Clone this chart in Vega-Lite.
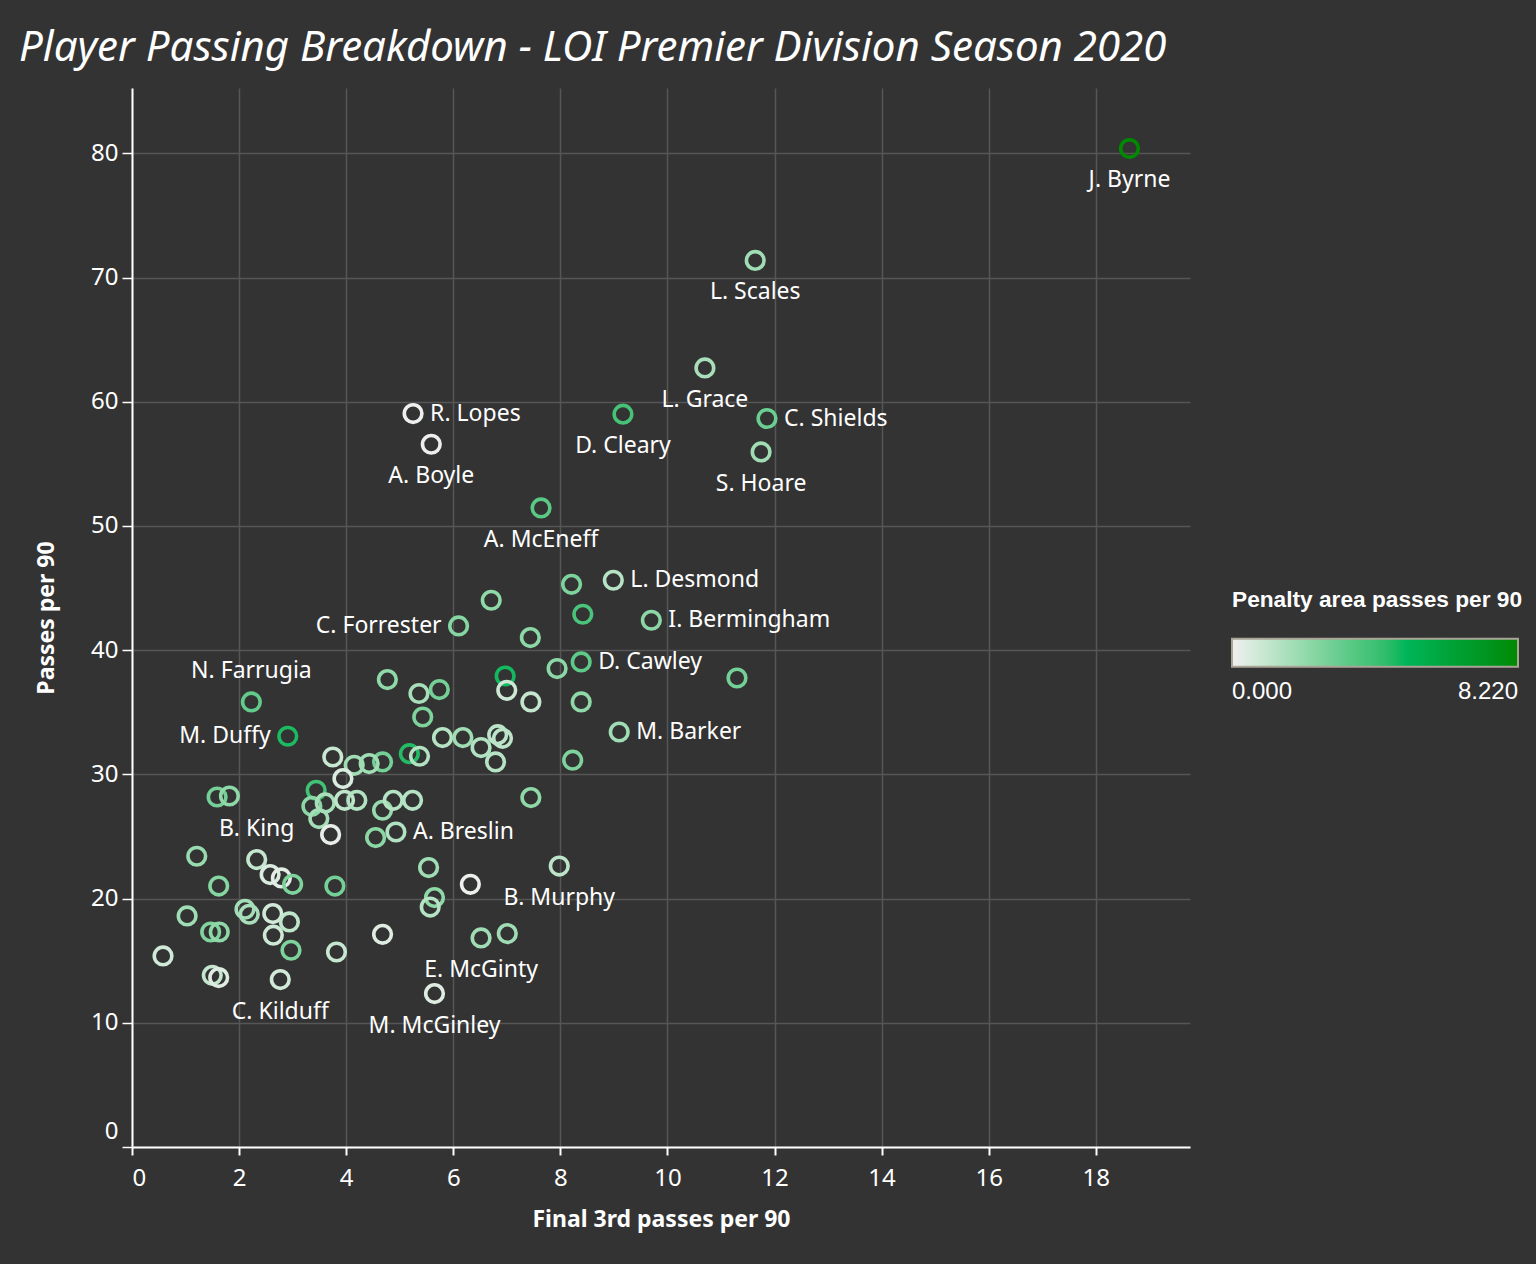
{
  "$schema": "https://vega.github.io/schema/vega-lite/v6.json",
  "width": 1058,
  "height": 1059,
  "autosize": {"type": "none"},
  "padding": {"left": 132, "top": 88, "right": 346, "bottom": 117},
  "background": "#333333",
  "config": {"view": {"stroke": null}, "font": "Noto Sans"},
  "title": {
    "text": "Player Passing Breakdown - LOI Premier Division Season 2020",
    "anchor": "start",
    "frame": "group",
    "dx": -113,
    "dy": 38,
    "offset": 23,
    "baseline": "alphabetic",
    "font": "Noto Sans",
    "fontSize": 42,
    "fontStyle": "italic",
    "fontWeight": "normal",
    "color": "#ffffff"
  },
  "data": {
    "values": [
      {"player": "J. Byrne", "final3rd": 18.63, "passes": 80.39, "pen": 8.22},
      {"player": "L. Scales", "final3rd": 11.64, "passes": 71.38, "pen": 1.8},
      {"player": "L. Grace", "final3rd": 10.70, "passes": 62.72, "pen": 1.6},
      {"player": "C. Shields", "final3rd": 11.86, "passes": 58.65, "pen": 3.0},
      {"player": "S. Hoare", "final3rd": 11.75, "passes": 55.96, "pen": 1.8},
      {"player": "D. Cleary", "final3rd": 9.17, "passes": 59.00, "pen": 3.9},
      {"player": "R. Lopes", "final3rd": 5.25, "passes": 59.05, "pen": 0.05},
      {"player": "A. Boyle", "final3rd": 5.59, "passes": 56.58, "pen": 0.1},
      {"player": "A. McEneff", "final3rd": 7.64, "passes": 51.45, "pen": 3.4},
      {"player": "L. Desmond", "final3rd": 8.99, "passes": 45.63, "pen": 1.3},
      {"player": "I. Bermingham", "final3rd": 9.70, "passes": 42.41, "pen": 2.3},
      {"player": "C. Forrester", "final3rd": 6.10, "passes": 41.95, "pen": 2.4},
      {"player": "D. Cawley", "final3rd": 8.39, "passes": 39.05, "pen": 3.3},
      {"player": "N. Farrugia", "final3rd": 2.23, "passes": 35.83, "pen": 3.2},
      {"player": "M. Duffy", "final3rd": 2.91, "passes": 33.07, "pen": 4.7},
      {"player": "M. Barker", "final3rd": 9.10, "passes": 33.41, "pen": 1.8},
      {"player": "B. King", "final3rd": 2.33, "passes": 23.14, "pen": 1.0},
      {"player": "A. Breslin", "final3rd": 4.93, "passes": 25.36, "pen": 1.4},
      {"player": "B. Murphy", "final3rd": 7.98, "passes": 22.62, "pen": 1.2},
      {"player": "E. McGinty", "final3rd": 6.52, "passes": 16.83, "pen": 1.8},
      {"player": "M. McGinley", "final3rd": 5.65, "passes": 12.35, "pen": 0.4},
      {"player": "C. Kilduff", "final3rd": 2.77, "passes": 13.48, "pen": 0.7},
      {"player": "", "final3rd": 8.21, "passes": 45.30, "pen": 2.6},
      {"player": "", "final3rd": 8.42, "passes": 42.89, "pen": 3.8},
      {"player": "", "final3rd": 11.30, "passes": 37.76, "pen": 2.8},
      {"player": "", "final3rd": 7.94, "passes": 38.52, "pen": 2.3},
      {"player": "", "final3rd": 8.39, "passes": 35.83, "pen": 2.2},
      {"player": "", "final3rd": 8.23, "passes": 31.14, "pen": 2.6},
      {"player": "", "final3rd": 6.71, "passes": 44.02, "pen": 2.2},
      {"player": "", "final3rd": 7.44, "passes": 41.01, "pen": 2.3},
      {"player": "", "final3rd": 6.97, "passes": 37.92, "pen": 4.8},
      {"player": "", "final3rd": 7.00, "passes": 36.77, "pen": 0.8},
      {"player": "", "final3rd": 7.45, "passes": 35.83, "pen": 1.0},
      {"player": "", "final3rd": 4.77, "passes": 37.63, "pen": 2.2},
      {"player": "", "final3rd": 5.74, "passes": 36.83, "pen": 2.8},
      {"player": "", "final3rd": 5.36, "passes": 36.51, "pen": 1.6},
      {"player": "", "final3rd": 5.43, "passes": 34.62, "pen": 2.6},
      {"player": "", "final3rd": 5.80, "passes": 32.96, "pen": 1.3},
      {"player": "", "final3rd": 6.18, "passes": 32.96, "pen": 1.8},
      {"player": "", "final3rd": 6.52, "passes": 32.16, "pen": 1.4},
      {"player": "", "final3rd": 6.83, "passes": 33.20, "pen": 1.2},
      {"player": "", "final3rd": 6.92, "passes": 32.90, "pen": 1.2},
      {"player": "", "final3rd": 6.79, "passes": 31.00, "pen": 1.3},
      {"player": "", "final3rd": 5.18, "passes": 31.67, "pen": 4.6},
      {"player": "", "final3rd": 5.37, "passes": 31.46, "pen": 1.4},
      {"player": "", "final3rd": 4.68, "passes": 31.00, "pen": 2.8},
      {"player": "", "final3rd": 4.43, "passes": 30.87, "pen": 1.8},
      {"player": "", "final3rd": 4.15, "passes": 30.73, "pen": 1.8},
      {"player": "", "final3rd": 3.75, "passes": 31.40, "pen": 0.9},
      {"player": "", "final3rd": 3.94, "passes": 29.66, "pen": 0.5},
      {"player": "", "final3rd": 3.44, "passes": 28.72, "pen": 4.0},
      {"player": "", "final3rd": 7.45, "passes": 28.13, "pen": 2.2},
      {"player": "", "final3rd": 1.59, "passes": 28.18, "pen": 2.8},
      {"player": "", "final3rd": 1.82, "passes": 28.26, "pen": 2.2},
      {"player": "", "final3rd": 3.36, "passes": 27.43, "pen": 2.3},
      {"player": "", "final3rd": 3.61, "passes": 27.70, "pen": 1.6},
      {"player": "", "final3rd": 3.49, "passes": 26.44, "pen": 1.7},
      {"player": "", "final3rd": 3.97, "passes": 27.91, "pen": 1.1},
      {"player": "", "final3rd": 4.20, "passes": 27.91, "pen": 1.4},
      {"player": "", "final3rd": 3.71, "passes": 25.15, "pen": 0.2},
      {"player": "", "final3rd": 4.55, "passes": 24.91, "pen": 2.3},
      {"player": "", "final3rd": 4.68, "passes": 27.11, "pen": 2.0},
      {"player": "", "final3rd": 4.88, "passes": 27.91, "pen": 1.3},
      {"player": "", "final3rd": 5.24, "passes": 27.91, "pen": 1.3},
      {"player": "", "final3rd": 5.54, "passes": 22.50, "pen": 1.8},
      {"player": "", "final3rd": 6.32, "passes": 21.15, "pen": 0.05},
      {"player": "", "final3rd": 5.65, "passes": 20.08, "pen": 2.2},
      {"player": "", "final3rd": 5.57, "passes": 19.32, "pen": 1.3},
      {"player": "", "final3rd": 7.01, "passes": 17.18, "pen": 1.8},
      {"player": "", "final3rd": 4.68, "passes": 17.12, "pen": 0.4},
      {"player": "", "final3rd": 1.21, "passes": 23.41, "pen": 2.0},
      {"player": "", "final3rd": 2.58, "passes": 21.93, "pen": 0.5},
      {"player": "", "final3rd": 2.79, "passes": 21.66, "pen": 0.3},
      {"player": "", "final3rd": 3.00, "passes": 21.15, "pen": 2.6},
      {"player": "", "final3rd": 1.62, "passes": 21.01, "pen": 2.4},
      {"player": "", "final3rd": 3.79, "passes": 21.01, "pen": 2.8},
      {"player": "", "final3rd": 1.03, "passes": 18.60, "pen": 1.8},
      {"player": "", "final3rd": 2.11, "passes": 19.14, "pen": 1.7},
      {"player": "", "final3rd": 2.19, "passes": 18.74, "pen": 1.6},
      {"player": "", "final3rd": 2.63, "passes": 18.79, "pen": 0.7},
      {"player": "", "final3rd": 2.94, "passes": 18.12, "pen": 1.1},
      {"player": "", "final3rd": 1.47, "passes": 17.31, "pen": 2.5},
      {"player": "", "final3rd": 1.63, "passes": 17.31, "pen": 2.2},
      {"player": "", "final3rd": 2.64, "passes": 17.05, "pen": 0.8},
      {"player": "", "final3rd": 2.97, "passes": 15.84, "pen": 2.6},
      {"player": "", "final3rd": 3.82, "passes": 15.70, "pen": 0.9},
      {"player": "", "final3rd": 0.58, "passes": 15.38, "pen": 0.7},
      {"player": "", "final3rd": 1.50, "passes": 13.82, "pen": 1.0},
      {"player": "", "final3rd": 1.62, "passes": 13.64, "pen": 0.4}
    ]
  },
  "encoding": {
    "x": {
      "field": "final3rd",
      "type": "quantitative",
      "title": "Final 3rd passes per 90",
      "scale": {"domain": [0, 19.76], "nice": false, "zero": false},
      "axis": {
        "values": [0, 2, 4, 6, 8, 10, 12, 14, 16, 18],
        "domainColor": "#ffffff",
        "domainWidth": 2,
        "tickColor": "#ffffff",
        "tickWidth": 2,
        "tickSize": 8,
        "labelColor": "#ffffff",
        "labelFont": "Noto Sans",
        "labelFontSize": 24,
        "labelPadding": 11,
        "gridColor": "#565656",
        "gridWidth": 1.5,
        "titleColor": "#ffffff",
        "titleFont": "Noto Sans",
        "titleFontSize": 23,
        "titleFontWeight": "bold",
        "titlePadding": 18
      }
    },
    "y": {
      "field": "passes",
      "type": "quantitative",
      "title": "Passes per 90",
      "scale": {"domain": [0, 85.26], "nice": false, "zero": false},
      "axis": {
        "values": [0, 10, 20, 30, 40, 50, 60, 70, 80],
        "domainColor": "#ffffff",
        "domainWidth": 2,
        "tickColor": "#ffffff",
        "tickWidth": 1.5,
        "tickSize": 10,
        "labelColor": "#ffffff",
        "labelFont": "Noto Sans",
        "labelFontSize": 24,
        "labelPadding": 4,
        "labelOffset": {"condition": {"test": "datum.value === 0", "value": -16}, "value": 0},
        "gridColor": "#565656",
        "gridWidth": 1.5,
        "titleColor": "#ffffff",
        "titleFont": "Noto Sans",
        "titleFontSize": 23,
        "titleFontWeight": "bold",
        "titlePadding": 32
      }
    }
  },
  "layer": [
    {
      "mark": {"type": "point", "filled": false, "strokeWidth": 3.6, "size": 310, "opacity": 1},
      "encoding": {
        "color": {
          "field": "pen",
          "type": "quantitative",
          "scale": {"domain": [0, 8.22], "range": ["#f0f0f0", "#a6dfb9", "#5dca88", "#00b75a", "#009e30", "#008a00"]},
          "legend": {
            "orient": "none",
            "legendX": 1100,
            "legendY": 501,
            "direction": "horizontal",
            "title": "Penalty area passes per 90",
            "titleFont": "Liberation Sans",
            "titleFontSize": 22.7,
            "titleFontWeight": "bold",
            "titleColor": "#ffffff",
            "titlePadding": 27,
            "titleLimit": 400,
            "gradientLength": 286,
            "gradientThickness": 28,
            "gradientStrokeColor": "#aaa596",
            "gradientStrokeWidth": 2,
            "values": [0, 8.22],
            "format": ".3f",
            "labelFont": "Liberation Sans",
            "labelFontSize": 24,
            "labelColor": "#ffffff",
            "labelOffset": 13,
            "padding": 0
          }
        }
      }
    },
    {
      "transform": [{"filter": {"field": "player", "oneOf": ["J. Byrne", "L. Scales", "L. Grace", "S. Hoare", "D. Cleary", "A. Boyle", "A. McEneff", "B. Murphy", "E. McGinty", "M. McGinley", "C. Kilduff"]}}],
      "mark": {"type": "text", "dy": 32, "align": "center", "baseline": "middle", "font": "Noto Sans", "fontSize": 23, "color": "#ffffff"},
      "encoding": {"text": {"field": "player"}}
    },
    {
      "transform": [{"filter": {"field": "player", "oneOf": ["N. Farrugia", "B. King"]}}],
      "mark": {"type": "text", "dy": -31, "align": "center", "baseline": "middle", "font": "Noto Sans", "fontSize": 23, "color": "#ffffff"},
      "encoding": {"text": {"field": "player"}}
    },
    {
      "transform": [{"filter": {"field": "player", "oneOf": ["C. Shields", "R. Lopes", "L. Desmond", "I. Bermingham", "D. Cawley", "M. Barker", "A. Breslin"]}}],
      "mark": {"type": "text", "dx": 17, "align": "left", "baseline": "middle", "font": "Noto Sans", "fontSize": 23, "color": "#ffffff"},
      "encoding": {"text": {"field": "player"}}
    },
    {
      "transform": [{"filter": {"field": "player", "oneOf": ["C. Forrester", "M. Duffy"]}}],
      "mark": {"type": "text", "dx": -17, "align": "right", "baseline": "middle", "font": "Noto Sans", "fontSize": 23, "color": "#ffffff"},
      "encoding": {"text": {"field": "player"}}
    }
  ]
}
